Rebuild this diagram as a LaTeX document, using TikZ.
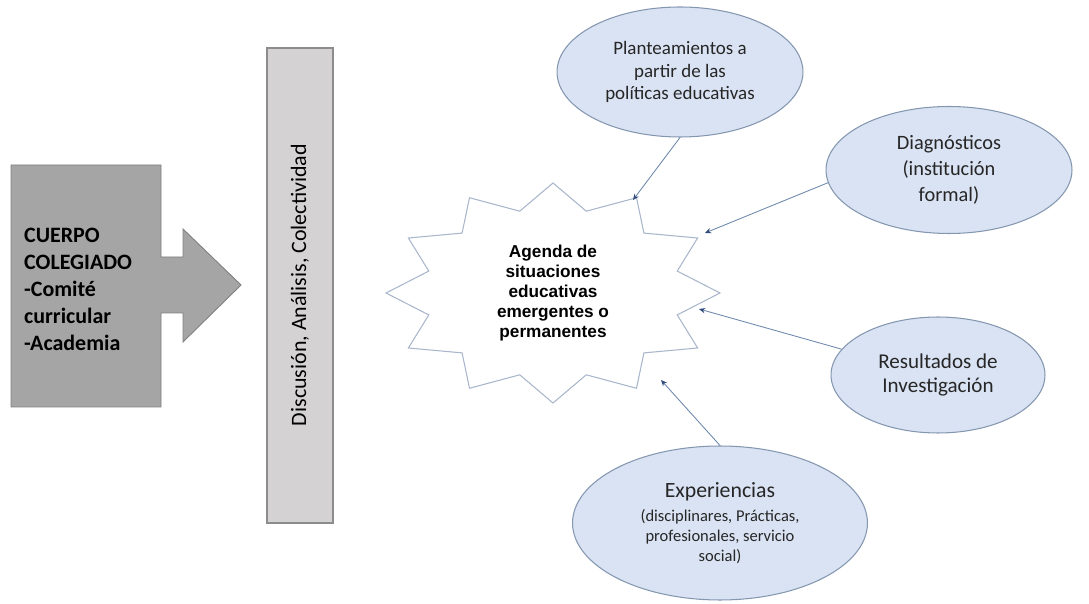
\documentclass[tikz,border=0pt]{standalone}
\usepackage{fontspec}
\setmainfont{Carlito}
\newfontfamily\arialfont{Liberation Sans}
\usetikzlibrary{shapes.geometric,arrows.meta}

\definecolor{blockgray}{HTML}{A5A5A5}
\definecolor{blockedge}{HTML}{7F7F7F}
\definecolor{barfill}{HTML}{D4D2D2}
\definecolor{baredge}{HTML}{8C8C8C}
\definecolor{bubblefill}{HTML}{DAE3F3}
\definecolor{bubbleedge}{HTML}{8497B0}
\definecolor{starline}{HTML}{A9B6CB}
\definecolor{feedline}{HTML}{7089AE}
\definecolor{feedtip}{HTML}{2F4B7C}

\tikzset{
  bubble/.style={ellipse, draw=bubbleedge, fill=bubblefill, line width=0.6pt, inner sep=0pt, align=center, text=black!85},
  feed/.style={draw=feedline, line width=0.5pt, -{Stealth[length=3.5pt,width=3pt,color=feedtip]}},
}

\begin{document}
\begin{tikzpicture}[x=0.02cm, y=-0.02cm]
  \useasboundingbox (0,0) rectangle (1089,604);

  % cuerpo colegiado with its arrow
  \fill[blockgray, draw=blockedge, line width=0.5pt] (11,165) -- (161,165) -- (161,257) -- (183,257) -- (183,229)
    -- (241,285) -- (183,342) -- (183,313) -- (161,313) -- (161,407) -- (11,407) -- cycle;
  \node (cuerpo) [anchor=west, align=left, font=\fontsize{12.5}{15.4}\selectfont\bfseries] at (18,289)
    {CUERPO\\COLEGIADO\\-Comité\\curricular\\-Academia};

  % vertical bar
  \draw[fill=barfill, draw=baredge, line width=0.8pt] (267,48) rectangle (333,523);
  \node (discusion) [rotate=90, font=\fontsize{12.5}{15}\selectfont] at (300,285) {Discusión, Análisis, Colectividad};

  % agenda star (12 points)
  \draw[fill=white, draw=starline, line width=0.6pt] (720,293)
    \foreach \i in {1,...,23} { -- ({553+167*(1-0.23*mod(\i,2))*cos(15*\i)}, {293+110*(1-0.23*mod(\i,2))*sin(15*\i)}) } -- cycle;
  \node (agenda) [align=center, font=\arialfont\bfseries\fontsize{9.8}{11.4}\selectfont] at (553,293)
    {Agenda de\\situaciones\\educativas\\emergentes o\\permanentes};

  % sources
  \node (plan) [bubble, minimum width=4.92cm, minimum height=2.6cm, font=\fontsize{10.8}{12.6}\selectfont] at (680,72)
    {Planteamientos a\\partir de las\\políticas educativas};
  \node (diag) [bubble, minimum width=4.92cm, minimum height=2.54cm, font=\fontsize{11.6}{14.8}\selectfont] at (949,170)
    {Diagnósticos\\(institución\\formal)};
  \node (result) [bubble, minimum width=4.28cm, minimum height=2.32cm, font=\fontsize{12}{14.2}\selectfont] at (938,375)
    {Resultados de\\Investigación};
  \node (exper) [bubble, minimum width=5.9cm, minimum height=3.08cm, font=\fontsize{9.4}{11.4}\selectfont] at (720,523)
    {{\fontsize{12.4}{14}\selectfont Experiencias}\\[2pt](disciplinares, Prácticas,\\profesionales, servicio\\social)};

  \coordinate (tipPlan) at (633,200);
  \coordinate (tipDiag) at (705,233);
  \coordinate (tipRes) at (699,309);
  \coordinate (tipExp) at (661,380);

  \draw[feed] (plan.south) -- (tipPlan);
  \draw[feed] (diag.186) -- (tipDiag);
  \draw[feed] (result.165) -- (tipRes);
  \draw[feed] (exper.north) -- (tipExp);
\end{tikzpicture}
\end{document}
